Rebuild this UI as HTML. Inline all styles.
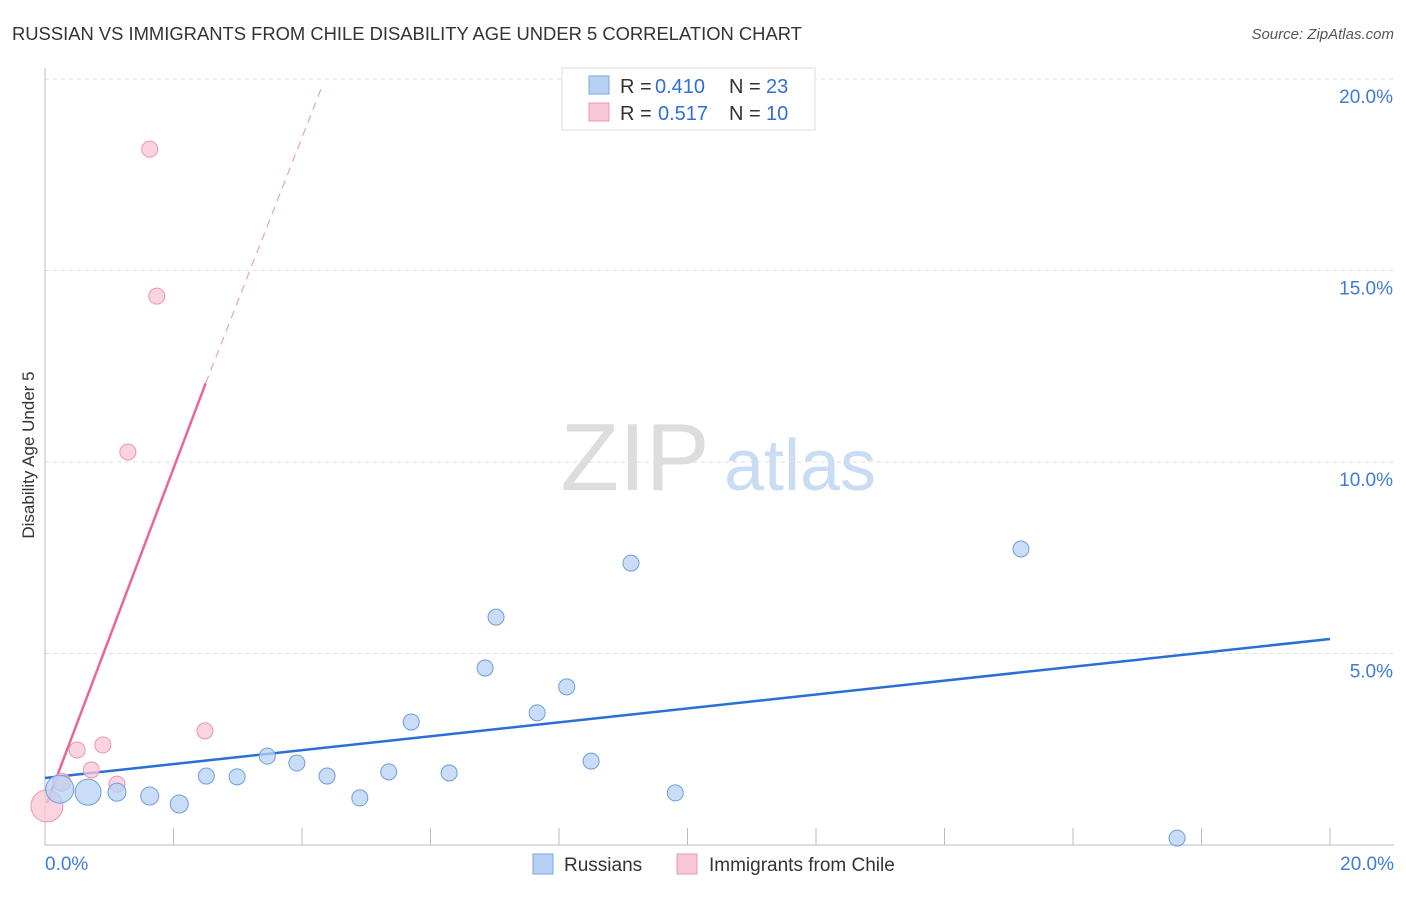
<!DOCTYPE html>
<html><head><meta charset="utf-8"><style>
body{margin:0;background:#fff;font-family:"Liberation Sans",sans-serif;}
svg text{font-family:"Liberation Sans",sans-serif;}
</style></head><body>
<svg id="chart" width="1406" height="892">
<text x="12" y="40" font-size="18.4" fill="#333">RUSSIAN VS IMMIGRANTS FROM CHILE DISABILITY AGE UNDER 5 CORRELATION CHART</text>
<text x="1394" y="39" font-size="15" fill="#555" font-style="italic" text-anchor="end">Source: ZipAtlas.com</text>
<text x="34" y="455" font-size="17" fill="#333" text-anchor="middle" transform="rotate(-90 34 455)">Disability Age Under 5</text>
<g><text x="635" y="490" font-size="96" fill="#ddd" font-family="Liberation Serif" text-anchor="middle">ZIP</text><text x="800" y="490" font-size="72" fill="#c8dcf3" text-anchor="middle">atlas</text></g>
<g id="grid"></g><g id="axes"></g><g id="lines"></g><g id="pts"></g>
<g>
<rect x="562" y="68" width="253" height="62" fill="#fff" stroke="#ddd"/>
<rect x="589" y="76" width="20" height="18" fill="#b7d1f3" stroke="#7aa7e0"/>
<text x="620" y="93" font-size="20" fill="#333">R =</text>
<text x="655" y="93" font-size="20" fill="#2f6fd6">0.410</text>
<text x="729" y="93" font-size="20" fill="#333">N =</text>
<text x="766" y="93" font-size="20" fill="#2f6fd6">23</text>
<rect x="589" y="103" width="20" height="18" fill="#f9c6d5" stroke="#eb95b0"/>
<text x="620" y="120" font-size="20" fill="#333">R =</text>
<text x="658" y="120" font-size="20" fill="#2f6fd6">0.517</text>
<text x="729" y="120" font-size="20" fill="#333">N =</text>
<text x="766" y="120" font-size="20" fill="#2f6fd6">10</text>
</g>
<g>
<rect x="533" y="854" width="20" height="20" fill="#b7d1f3" stroke="#7aa7e0"/>
<text x="564" y="871" font-size="19" fill="#333">Russians</text>
<rect x="677" y="854" width="20" height="20" fill="#f9c6d5" stroke="#eb95b0"/>
<text x="709" y="871" font-size="19" fill="#333">Immigrants from Chile</text>
</g>
</svg>
<script>
const yTicks=[5,10,15,20];
const yTickLabels=["5.0%","10.0%","15.0%","20.0%"];
const xTickLabels=["0.0%","20.0%"];
const rusX=[0.23,0.67,1.12,1.63,2.09,2.51,2.99,3.46,3.92,4.39,4.90,5.35,5.70,6.29,6.85,7.02,7.66,8.12,8.50,9.12,9.81,15.19,17.62];
const rusY=[1.46,1.38,1.38,1.28,1.07,1.80,1.78,2.32,2.14,1.80,1.23,1.91,3.21,1.88,4.62,5.95,3.45,4.13,2.19,7.36,1.36,7.73,0.18];
const rusR=[14,13,9,9,9,8,8,8,8,8,8,8,8,8,8,8,8,8,8,8,8,8,8];
const chiX=[0.03,0.26,0.50,0.72,0.90,1.12,1.29,1.63,1.74,2.49];
const chiY=[1.02,1.64,2.48,1.96,2.61,1.59,10.26,18.17,14.33,2.98];
const chiR=[16,9,8,8,8,8,8,8,8,8];
const rusLine=[[0,1.75],[20,5.38]];
const chiLine=[[0.03,1.1],[2.5,12.05],[4.31,19.8]];
const X=v=>45+v*64.25, Y=v=>845-v*38.3;
const NS="http://www.w3.org/2000/svg";
function mk(p,t,a){const e=document.createElementNS(NS,t);for(const k in a)e.setAttribute(k,a[k]);document.getElementById(p).appendChild(e);return e;}
yTicks.forEach((t,i)=>{
 const g=mk('grid','line',{x1:45,x2:1394,y1:Y(t),y2:Y(t),stroke:'#ddd','stroke-dasharray':'4 4'});
 
 
 const tx=mk('axes','text',{x:1393,y:Y(t)+24,'font-size':19,fill:'#3f7bd8','text-anchor':'end'});
 tx.textContent=yTickLabels[i];
 
 
});
const ya=mk('axes','line',{x1:45,x2:45,y1:68,y2:845,stroke:'#bbb'});


const xa=mk('axes','line',{x1:45,x2:1394,y1:845,y2:845,stroke:'#bbb'});


for(let i=0;i<=20;i+=2){const t=mk('axes','line',{x1:X(i),x2:X(i),y1:828,y2:845,stroke:'#bbb'});
 
 }
[[45,'start'],[1394,'end']].forEach((p,i)=>{const t=mk('axes','text',{x:p[0],y:870,'font-size':19,fill:'#3f7bd8','text-anchor':p[1]});t.textContent=xTickLabels[i];
 
 });
const bl=mk('lines','line',{x1:X(rusLine[0][0]),y1:Y(rusLine[0][1]),x2:X(rusLine[1][0]),y2:Y(rusLine[1][1]),stroke:'#2a6fd6','stroke-width':2.5});


const pl=mk('lines','line',{x1:X(chiLine[0][0]),y1:Y(chiLine[0][1]),x2:X(chiLine[1][0]),y2:Y(chiLine[1][1]),stroke:'#e8669a','stroke-width':2.5});


const pd=mk('lines','line',{x1:X(chiLine[1][0]),y1:Y(chiLine[1][1]),x2:X(chiLine[2][0]),y2:Y(chiLine[2][1]),stroke:'#eaa0bd','stroke-width':1.2,'stroke-dasharray':'8 6'});


chiX.forEach((x,i)=>{const c=mk('pts','circle',{cx:X(x),cy:Y(chiY[i]),r:chiR[i],fill:'#f9c6d5','fill-opacity':0.75,stroke:'#eb95b0'});
 
 });
rusX.forEach((x,i)=>{const c=mk('pts','circle',{cx:X(x),cy:Y(rusY[i]),r:rusR[i],fill:'#b7d1f3','fill-opacity':0.75,stroke:'#6d9edc'});
 
 });
</script>
</body></html>
